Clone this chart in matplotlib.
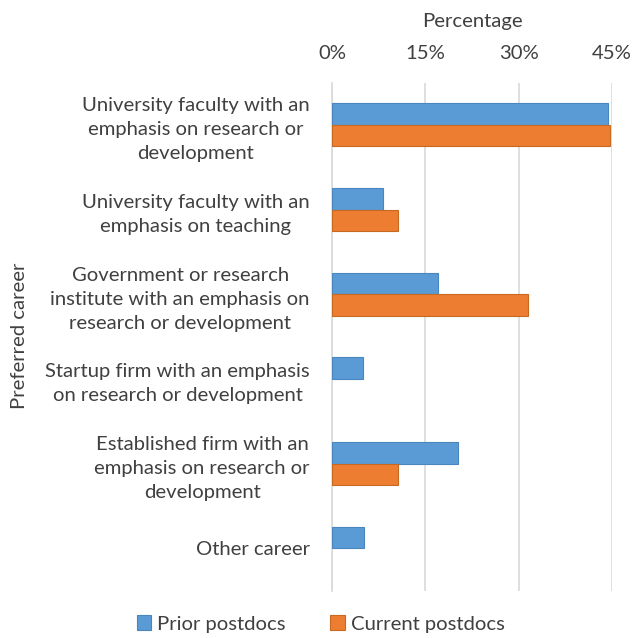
import matplotlib
matplotlib.use('Agg')
import matplotlib.pyplot as plt
import numpy as np
from matplotlib.ticker import FuncFormatter

careers = [
    'University faculty with an\nemphasis on research or\ndevelopment',
    'University faculty with an\nemphasis on teaching',
    'Government or research\ninstitute with an emphasis on\nresearch or development',
    'Startup firm with an emphasis\non research or development',
    'Established firm with an\nemphasis on research or\ndevelopment',
    'Other career',
]
prior = [44.3, 8.2, 17.0, 5.0, 20.3, 5.15]
current = [44.7, 10.6, 31.5, 0.0, 10.6, 0.0]
xticks = [0, 15, 30, 45]

BLUE = '#5B9BD5'
ORANGE = '#ED7D31'
FONT = ['Lato', 'DejaVu Sans']
FS = 14.6

plt.rcParams['font.family'] = FONT

fig = plt.figure(figsize=(6.34, 6.38), dpi=100)
ax = fig.add_axes([332 / 634, 1 - 590.5 / 638, 280 / 634, 508 / 638])

y = np.arange(len(careers))
h = 0.254
b1 = ax.barh(y - h / 2, prior, height=h, color=BLUE, edgecolor='#4A86BE',
             linewidth=0.8, label='Prior postdocs', zorder=3)
b2 = ax.barh(y + h / 2, current, height=h, color=ORANGE, edgecolor='#C7691F',
             linewidth=0.8, label='Current postdocs', zorder=3)
# empty bars should not leave an outline behind
for bars, vals in ((b1, prior), (b2, current)):
    for r, v in zip(bars, vals):
        if v == 0:
            r.set_linewidth(0)

ax.set_xlim(0, 45)
ax.set_ylim(len(careers) - 0.5, -0.5)
ax.set_xticks(xticks)
ax.xaxis.set_major_formatter(FuncFormatter(lambda v, p: '%d%%' % v))
ax.xaxis.tick_top()
ax.xaxis.set_label_position('top')
ax.set_xlabel('Percentage', fontsize=FS, labelpad=13, color='#404040')
ax.tick_params(axis='x', length=0, pad=15, labelsize=FS, colors='#404040')

ax.set_yticks(y)
ax.set_yticklabels(careers, fontsize=FS, color='#404040', ma='center',
                   linespacing=1.5)
ax.tick_params(axis='y', length=0, pad=16)

ax.grid(axis='x', color='#D9D9D9', linewidth=1.2, zorder=0)
for s in ['top', 'right', 'bottom']:
    ax.spines[s].set_visible(False)
ax.spines['left'].set_color('#D9D9D9')
ax.spines['left'].set_linewidth(1.2)

fig.text(20 / 634, 1 - 336 / 638, 'Preferred career', rotation=90,
         ha='center', va='center', fontsize=FS, color='#404040')

fig.legend(loc='center', bbox_to_anchor=(0.506, 1 - 624 / 638), ncol=2,
           frameon=False, fontsize=FS, handlelength=0.7, handleheight=0.7,
           handletextpad=0.3, columnspacing=2.2, labelcolor='#404040')

fig.savefig('out.png', dpi=100)
